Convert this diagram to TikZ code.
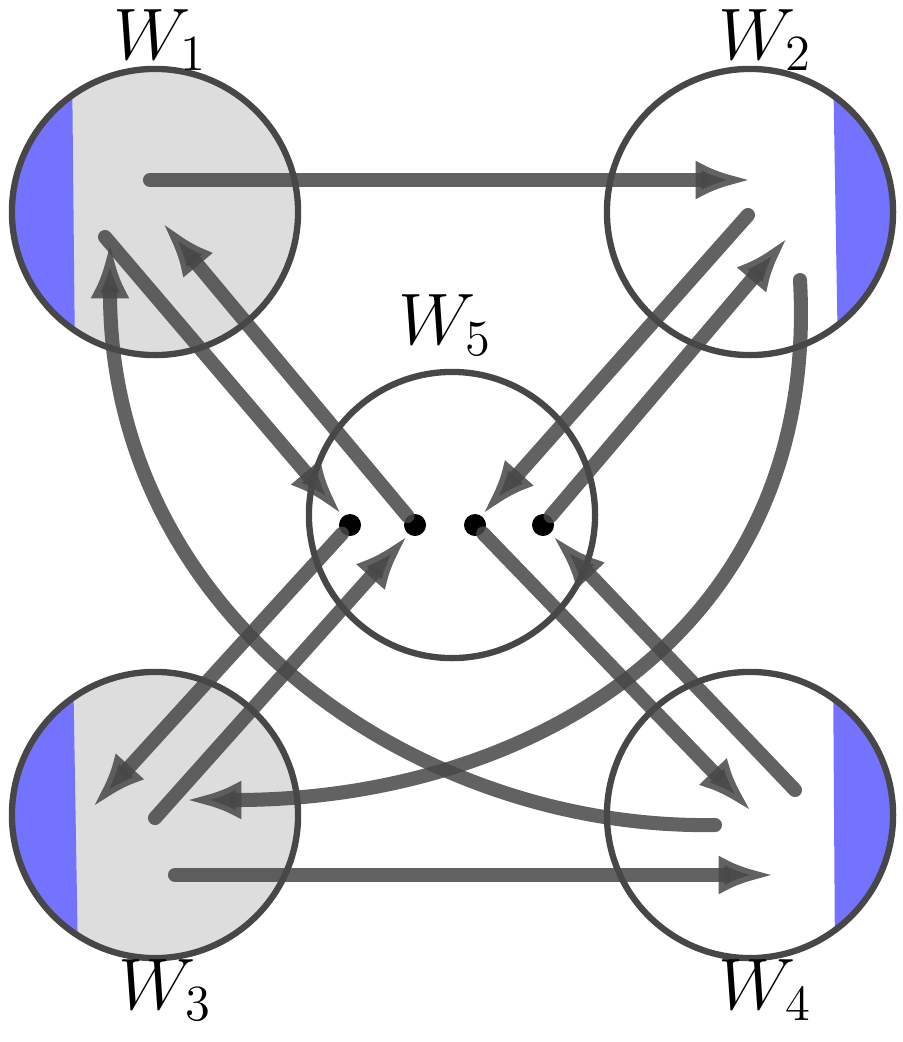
\documentclass[tikz,border=0pt]{standalone}
\usetikzlibrary{arrows.meta}
\tikzset{
  bigarrow/.style={line width=4pt, draw=black!72, opacity=0.85, line cap=round, -{Latex[length=16pt,width=11pt]}},
  urn/.style={circle, draw=black!72, line width=1.8pt, minimum size=2.86cm, inner sep=0pt},
  dot/.style={circle, fill=black, minimum size=0.22cm, inner sep=0pt},
  lab/.style={font=\fontsize{22}{26}\selectfont}
}
\begin{document}
\begin{tikzpicture}[x=0.01cm,y=-0.01cm]
\useasboundingbox (0,0) rectangle (902,1042);
%shaded urns
\begin{scope}
\clip (155,212) circle (143);
\fill[gray!27] (0,0) rectangle (300,360);
\fill[blue!55] (0,60) -- (72,60) -- (75,360) -- (0,360) -- cycle;
\end{scope}
\begin{scope}
\clip (155,815) circle (143);
\fill[gray!27] (0,660) rectangle (300,960);
\fill[blue!55] (0,660) -- (73,660) -- (78,960) -- (0,960) -- cycle;
\end{scope}
\begin{scope}
\clip (750,212) circle (143);
\fill[blue!55] (833,60) -- (902,60) -- (902,360) -- (838,360) -- cycle;
\end{scope}
\begin{scope}
\clip (750,815) circle (143);
\fill[blue!55] (833,660) -- (902,660) -- (902,960) -- (835,960) -- cycle;
\end{scope}
\node[urn] (w1) at (155,212) {};
\node[urn] (w2) at (750,212) {};
\node[urn] (w3) at (155,815) {};
\node[urn] (w4) at (750,815) {};
\node[urn] (w5) at (452,515) {};
\node[lab] at (160,40) {$W_1$};
\node[lab] at (765,40) {$W_2$};
\node[lab] at (445,325) {$W_5$};
\node[lab] at (165,990) {$W_3$};
\node[lab] at (765,990) {$W_4$};
\node[dot] (d1) at (350,525) {};
\node[dot] (d2) at (415,525) {};
\node[dot] (d3) at (475,525) {};
\node[dot] (d4) at (543,525) {};
%end points
\coordinate (a1) at (150,180); \coordinate (b1) at (752,180);
\coordinate (a2) at (105,237); \coordinate (b2) at (342,515);
\coordinate (b3) at (162,222);
\coordinate (a4) at (748,215); \coordinate (b4) at (482,515);
\coordinate (b5) at (788,237);
\coordinate (a6) at (800,280); \coordinate (b6) at (185,800);
\coordinate (a7) at (715,825); \coordinate (b7) at (110,242);
\coordinate (b8) at (92,808);
\coordinate (a9) at (155,818); \coordinate (b9) at (408,535);
\coordinate (b10) at (752,812);
\coordinate (a11) at (795,790); \coordinate (b11) at (552,535);
\coordinate (a12) at (175,875); \coordinate (b12) at (775,875);
\draw[bigarrow] (a1) -- (b1);
\draw[bigarrow] (a2) -- (b2);
\draw[bigarrow] (d2) -- (b3);
\draw[bigarrow] (a4) -- (b4);
\draw[bigarrow] (d4) -- (b5);
\draw[bigarrow] (a6) .. controls (820,640) and (520,800) .. (b6);
\draw[bigarrow] (a7) .. controls (420,830) and (110,620) .. (b7);
\draw[bigarrow] (d1) -- (b8);
\draw[bigarrow] (a9) -- (b9);
\draw[bigarrow] (d3) -- (b10);
\draw[bigarrow] (a11) -- (b11);
\draw[bigarrow] (a12) -- (b12);
\end{tikzpicture}
\end{document}
